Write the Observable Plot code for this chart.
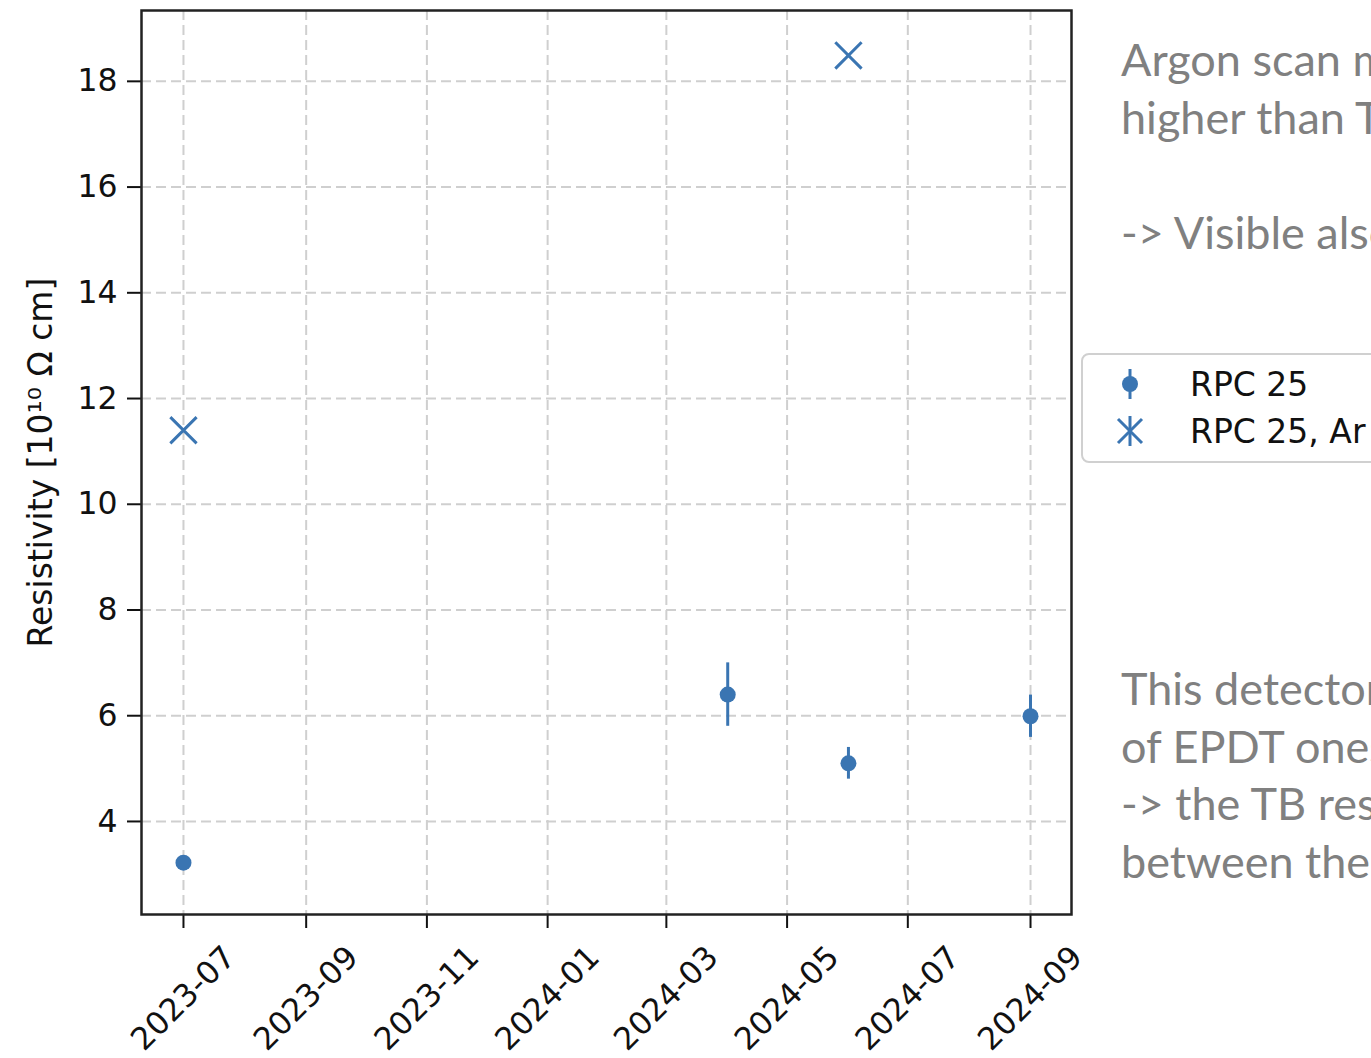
<!DOCTYPE html>
<html><head><meta charset="utf-8">
<script src="https://cdn.jsdelivr.net/npm/d3@7"></script>
<script src="https://cdn.jsdelivr.net/npm/@observablehq/plot@0.6"></script>
<style>
html,body{margin:0;padding:0;background:#fff;}
body{width:1371px;height:1058px;overflow:hidden;position:relative;}
#chart{position:absolute;left:0;top:0;}
.note{position:absolute;left:1121px;font-family:Lato,"Open Sans",sans-serif;font-size:45px;color:#808080;white-space:nowrap;line-height:57.5px;}
#legend{position:absolute;left:1081px;top:353px;width:330px;height:106px;border:2px solid #d0d0d0;border-radius:8px;background:#fff;font-family:"DejaVu Sans",sans-serif;font-size:33px;color:#111;}
.lrow{position:absolute;left:0;height:40px;display:flex;align-items:center;white-space:nowrap;}
.lrow svg{margin-left:29px;margin-right:42px;}
</style></head><body>
<div id="chart"></div>
<div class="note" id="note1" style="top:31px"></div>
<div class="note" id="note2" style="top:660px"></div>
<div id="legend"></div>
<script>
const rpcDates = ["2023-07-01", "2024-04-01", "2024-06-01", "2024-09-01"];
const rpcValues = [3.22, 6.40, 5.10, 5.99];
const rpcErrors = [0.1, 0.6, 0.3, 0.4];
const arDates = ["2023-07-01", "2024-06-01"];
const arValues = [11.40, 18.49];
const xTickLabels = ["2023-07", "2023-09", "2023-11", "2024-01", "2024-03", "2024-05", "2024-07", "2024-09"];
const yTicks = [4, 6, 8, 10, 12, 14, 16, 18];
const yLabel = ["Resistivity [10\u00b9\u2070 \u03a9 cm]"];
const seriesNames = ["RPC 25", "RPC 25, Ar"];
const noteTop = ["Argon scan m", "higher than T", "", "-> Visible also"];
const noteBottom = ["This detector", "of EPDT ones", "-> the TB res", "between the"];

const blue = "#3a75b2";
const rpc = rpcDates.map((d, i) => ({date: new Date(d), value: rpcValues[i], err: rpcErrors[i]}));
const ar = arDates.map((d, i) => ({date: new Date(d), value: arValues[i]}));
const xTicks = xTickLabels.map(s => new Date(s + "-01"));

const chart = Plot.plot({
  width: 1371, height: 1058,
  marginLeft: 141, marginRight: 300, marginTop: 10, marginBottom: 144,
  style: {fontFamily: "'DejaVu Sans', sans-serif", fontSize: "31px", color: "#111", background: "transparent"},
  x: {type: "utc", domain: [new Date("2023-06-09T19:00Z"), new Date("2024-09-21T17:00Z")]},
  y: {domain: [2.24, 19.34]},
  marks: [
    Plot.gridX({ticks: xTicks, stroke: "#cfcfcf", strokeOpacity: 1, strokeWidth: 2, strokeDasharray: "10,5"}),
    Plot.gridY({ticks: yTicks, stroke: "#cfcfcf", strokeOpacity: 1, strokeWidth: 2, strokeDasharray: "10,5"}),
    Plot.axisY({ticks: yTicks, tickSize: 14, tickPadding: 10, fontSize: 31.5, strokeWidth: 2, tickFormat: d => String(d), label: null}),
    Plot.axisX({ticks: xTicks, tickSize: 14, strokeWidth: 2, tickFormat: () => "", label: null}),
    Plot.text(xTicks, {x: d => d, text: (d, i) => xTickLabels[i], frameAnchor: "bottom", dy: 84, rotate: -45, fontSize: 31.5, textAnchor: "middle", lineAnchor: "middle", fill: "#111"}),
    Plot.text(yLabel, {text: d => d, frameAnchor: "left", dx: -100, rotate: -90, fontSize: 33, textAnchor: "middle", lineAnchor: "middle", fill: "#111"}),
    Plot.frame({stroke: "#222", strokeWidth: 2.5}),
    Plot.ruleX(rpc, {x: "date", y1: d => d.value - d.err, y2: d => d.value + d.err, stroke: blue, strokeWidth: 3}),
    Plot.dot(rpc, {x: "date", y: "value", r: 8, fill: blue, stroke: "none"}),
    Plot.dot(ar, {x: "date", y: "value", symbol: "times", r: 12, stroke: blue, strokeWidth: 3})
  ]
});
document.getElementById("chart").append(chart);

document.getElementById("note1").innerHTML = noteTop.map(s => s === "" ? "&nbsp;" : s.replace(/</g, "&lt;").replace(/>/g, "&gt;")).join("<br>");
document.getElementById("note2").innerHTML = noteBottom.map(s => s.replace(/</g, "&lt;").replace(/>/g, "&gt;")).join("<br>");

const legend = document.getElementById("legend");
const dotSvg = `<svg width="36" height="36" viewBox="-18 -18 36 36"><line x1="0" y1="-15" x2="0" y2="15" stroke="${blue}" stroke-width="3"/><circle r="8" fill="${blue}"/></svg>`;
const xSvg = `<svg width="36" height="36" viewBox="-18 -18 36 36"><line x1="0" y1="-15" x2="0" y2="15" stroke="${blue}" stroke-width="3"/><path d="M-12,-12L12,12M-12,12L12,-12" stroke="${blue}" stroke-width="3"/></svg>`;
[dotSvg, xSvg].forEach((svg, i) => {
  const row = document.createElement("div");
  row.className = "lrow";
  row.style.top = (i === 0 ? 9 : 56) + "px";
  row.innerHTML = svg + `<span>${seriesNames[i]}</span>`;
  legend.append(row);
});
</script>
</body></html>
